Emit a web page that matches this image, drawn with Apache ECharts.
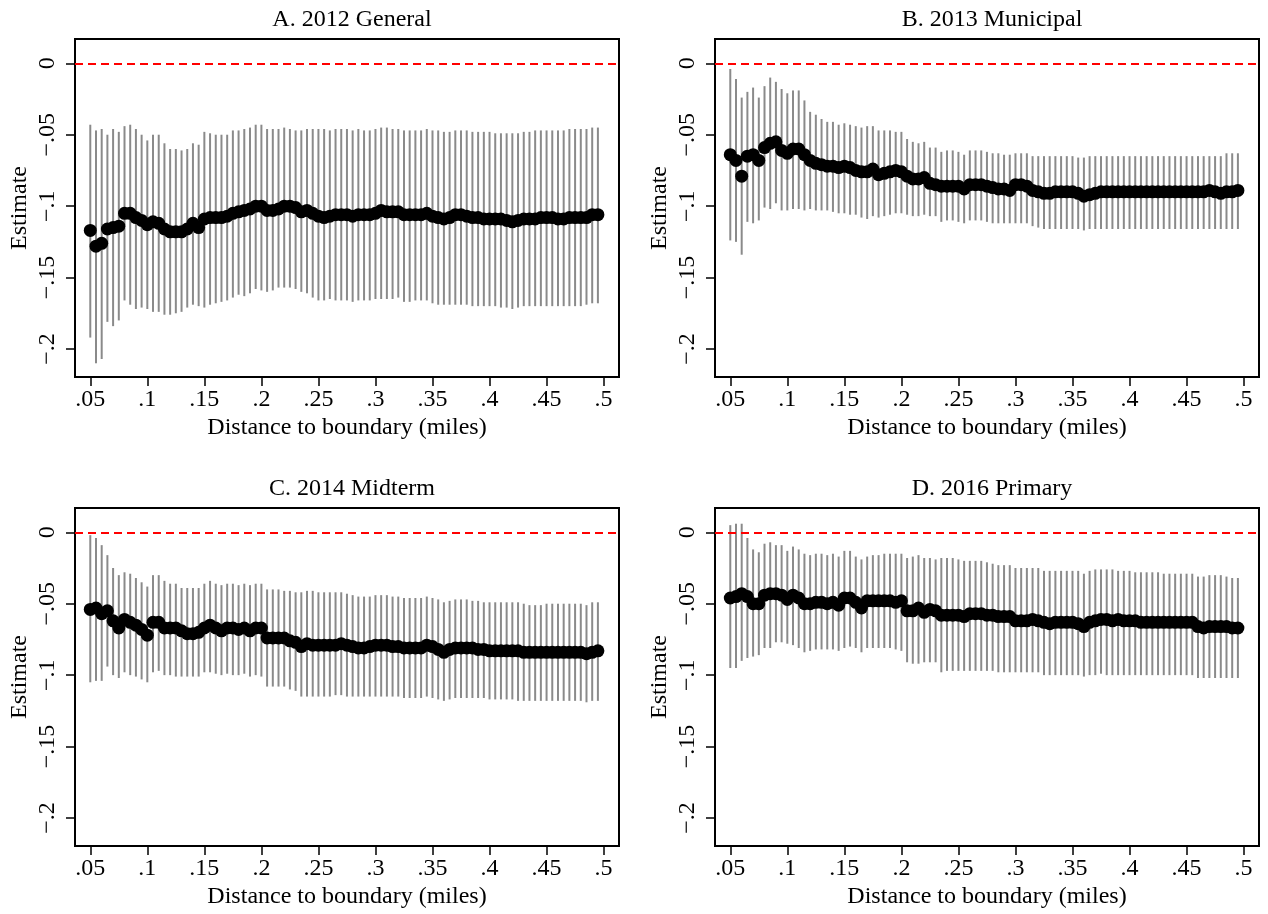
<!DOCTYPE html>
<html>
<head>
<meta charset="utf-8">
<title>Estimates by distance to boundary</title>
<script src="https://cdn.jsdelivr.net/npm/echarts@6/dist/echarts.min.js"></script>
<style>
  html, body { margin: 0; padding: 0; background: #fff; }
  #chart { width: 1268px; height: 914px; }
</style>
</head>
<body>
<div id="chart"></div>
<script>
// distance to boundary (miles)
const distances = [
  0.05, 0.055, 0.06, 0.065, 0.07, 0.075, 0.08, 0.085, 0.09, 0.095,
  0.1, 0.105, 0.11, 0.115, 0.12, 0.125, 0.13, 0.135, 0.14, 0.145,
  0.15, 0.155, 0.16, 0.165, 0.17, 0.175, 0.18, 0.185, 0.19, 0.195,
  0.2, 0.205, 0.21, 0.215, 0.22, 0.225, 0.23, 0.235, 0.24, 0.245,
  0.25, 0.255, 0.26, 0.265, 0.27, 0.275, 0.28, 0.285, 0.29, 0.295,
  0.3, 0.305, 0.31, 0.315, 0.32, 0.325, 0.33, 0.335, 0.34, 0.345,
  0.35, 0.355, 0.36, 0.365, 0.37, 0.375, 0.38, 0.385, 0.39, 0.395,
  0.4, 0.405, 0.41, 0.415, 0.42, 0.425, 0.43, 0.435, 0.44, 0.445,
  0.45, 0.455, 0.46, 0.465, 0.47, 0.475, 0.48, 0.485, 0.49, 0.495
];

const xTicks = [0.05, 0.1, 0.15, 0.2, 0.25, 0.3, 0.35, 0.4, 0.45, 0.5];
const yTicks = [0, -0.05, -0.1, -0.15, -0.2];

const titles = ['A. 2012 General', 'B. 2013 Municipal', 'C. 2014 Midterm', 'D. 2016 Primary'];

// A. 2012 General
const estA = [
  -0.117, -0.128, -0.126, -0.116, -0.115, -0.114, -0.105, -0.105, -0.108, -0.110,
  -0.113, -0.111, -0.112, -0.116, -0.118, -0.118, -0.118, -0.116, -0.112, -0.115,
  -0.109, -0.108, -0.108, -0.108, -0.107, -0.105, -0.104, -0.103, -0.102, -0.100,
  -0.100, -0.103, -0.103, -0.102, -0.100, -0.100, -0.101, -0.104, -0.103, -0.105,
  -0.107, -0.108, -0.107, -0.106, -0.106, -0.106, -0.107, -0.106, -0.106, -0.106,
  -0.105, -0.103, -0.104, -0.104, -0.104, -0.106, -0.106, -0.106, -0.106, -0.105,
  -0.107, -0.108, -0.109, -0.108, -0.106, -0.106, -0.107, -0.108, -0.108, -0.109,
  -0.109, -0.109, -0.109, -0.110, -0.111, -0.110, -0.109, -0.109, -0.109, -0.108,
  -0.108, -0.108, -0.109, -0.109, -0.108, -0.108, -0.108, -0.108, -0.106, -0.106
];
const hiA = [
  -0.043, -0.047, -0.046, -0.050, -0.046, -0.048, -0.044, -0.043, -0.046, -0.050,
  -0.054, -0.050, -0.050, -0.056, -0.060, -0.060, -0.061, -0.060, -0.056, -0.057,
  -0.048, -0.049, -0.050, -0.050, -0.050, -0.047, -0.047, -0.046, -0.045, -0.043,
  -0.043, -0.046, -0.046, -0.046, -0.045, -0.046, -0.047, -0.047, -0.046, -0.046,
  -0.046, -0.046, -0.047, -0.046, -0.046, -0.046, -0.047, -0.046, -0.047, -0.047,
  -0.046, -0.045, -0.045, -0.046, -0.046, -0.047, -0.047, -0.047, -0.047, -0.046,
  -0.047, -0.047, -0.048, -0.048, -0.047, -0.047, -0.047, -0.048, -0.048, -0.048,
  -0.048, -0.049, -0.049, -0.049, -0.049, -0.049, -0.048, -0.048, -0.047, -0.047,
  -0.047, -0.047, -0.047, -0.047, -0.046, -0.046, -0.046, -0.046, -0.045, -0.045
];
const loA = [
  -0.192, -0.210, -0.207, -0.181, -0.184, -0.180, -0.166, -0.169, -0.172, -0.171,
  -0.172, -0.174, -0.174, -0.176, -0.176, -0.175, -0.174, -0.171, -0.169, -0.170,
  -0.171, -0.169, -0.168, -0.167, -0.166, -0.164, -0.162, -0.163, -0.161, -0.158,
  -0.159, -0.160, -0.159, -0.157, -0.157, -0.157, -0.158, -0.160, -0.161, -0.164,
  -0.166, -0.166, -0.165, -0.166, -0.166, -0.166, -0.167, -0.166, -0.166, -0.166,
  -0.165, -0.165, -0.165, -0.165, -0.164, -0.167, -0.167, -0.166, -0.166, -0.166,
  -0.168, -0.169, -0.169, -0.169, -0.169, -0.169, -0.169, -0.170, -0.170, -0.170,
  -0.170, -0.170, -0.171, -0.171, -0.172, -0.171, -0.170, -0.170, -0.170, -0.170,
  -0.170, -0.170, -0.170, -0.170, -0.170, -0.170, -0.170, -0.169, -0.168, -0.168
];

// B. 2013 Municipal
const estB = [
  -0.064, -0.068, -0.079, -0.065, -0.064, -0.068, -0.059, -0.056, -0.055, -0.061,
  -0.063, -0.060, -0.060, -0.064, -0.068, -0.070, -0.071, -0.072, -0.072, -0.073,
  -0.072, -0.073, -0.075, -0.076, -0.076, -0.074, -0.078, -0.077, -0.076, -0.075,
  -0.076, -0.079, -0.081, -0.081, -0.080, -0.084, -0.085, -0.086, -0.086, -0.086,
  -0.086, -0.088, -0.085, -0.085, -0.085, -0.086, -0.087, -0.088, -0.088, -0.089,
  -0.085, -0.085, -0.086, -0.089, -0.090, -0.091, -0.091, -0.090, -0.090, -0.090,
  -0.090, -0.091, -0.093, -0.092, -0.091, -0.090, -0.090, -0.090, -0.090, -0.090,
  -0.090, -0.090, -0.090, -0.090, -0.090, -0.090, -0.090, -0.090, -0.090, -0.090,
  -0.090, -0.090, -0.090, -0.090, -0.089, -0.090, -0.091, -0.090, -0.090, -0.089
];
const hiB = [
  -0.004, -0.011, -0.024, -0.020, -0.017, -0.024, -0.016, -0.010, -0.013, -0.018,
  -0.021, -0.019, -0.019, -0.026, -0.034, -0.036, -0.039, -0.041, -0.041, -0.043,
  -0.042, -0.043, -0.044, -0.045, -0.044, -0.044, -0.047, -0.047, -0.047, -0.048,
  -0.048, -0.053, -0.055, -0.056, -0.055, -0.059, -0.059, -0.062, -0.061, -0.061,
  -0.062, -0.064, -0.061, -0.061, -0.061, -0.062, -0.063, -0.063, -0.064, -0.064,
  -0.063, -0.063, -0.063, -0.065, -0.065, -0.065, -0.065, -0.065, -0.065, -0.065,
  -0.065, -0.066, -0.066, -0.065, -0.065, -0.065, -0.065, -0.065, -0.065, -0.065,
  -0.065, -0.065, -0.065, -0.065, -0.065, -0.065, -0.065, -0.065, -0.065, -0.065,
  -0.065, -0.065, -0.065, -0.065, -0.065, -0.065, -0.065, -0.063, -0.063, -0.063
];
const loB = [
  -0.124, -0.125, -0.134, -0.111, -0.112, -0.110, -0.101, -0.102, -0.098, -0.103,
  -0.103, -0.102, -0.102, -0.103, -0.102, -0.103, -0.103, -0.103, -0.104, -0.105,
  -0.105, -0.106, -0.106, -0.108, -0.109, -0.107, -0.108, -0.107, -0.106, -0.105,
  -0.105, -0.106, -0.107, -0.107, -0.106, -0.107, -0.107, -0.111, -0.110, -0.110,
  -0.111, -0.112, -0.110, -0.110, -0.110, -0.111, -0.112, -0.112, -0.112, -0.112,
  -0.112, -0.112, -0.112, -0.114, -0.115, -0.116, -0.116, -0.116, -0.116, -0.116,
  -0.116, -0.116, -0.117, -0.116, -0.116, -0.116, -0.116, -0.116, -0.116, -0.116,
  -0.116, -0.116, -0.116, -0.116, -0.116, -0.116, -0.116, -0.116, -0.116, -0.116,
  -0.116, -0.116, -0.116, -0.116, -0.116, -0.116, -0.116, -0.116, -0.116, -0.116
];

// C. 2014 Midterm
const estC = [
  -0.054, -0.053, -0.057, -0.055, -0.062, -0.067, -0.061, -0.063, -0.065, -0.068,
  -0.072, -0.063, -0.063, -0.067, -0.067, -0.067, -0.069, -0.071, -0.071, -0.070,
  -0.067, -0.065, -0.067, -0.069, -0.067, -0.067, -0.068, -0.067, -0.069, -0.067,
  -0.067, -0.074, -0.074, -0.074, -0.074, -0.076, -0.077, -0.080, -0.078, -0.079,
  -0.079, -0.079, -0.079, -0.079, -0.078, -0.079, -0.080, -0.081, -0.081, -0.080,
  -0.079, -0.079, -0.079, -0.080, -0.080, -0.081, -0.081, -0.081, -0.081, -0.079,
  -0.080, -0.082, -0.084, -0.082, -0.081, -0.081, -0.081, -0.081, -0.082, -0.082,
  -0.083, -0.083, -0.083, -0.083, -0.083, -0.083, -0.084, -0.084, -0.084, -0.084,
  -0.084, -0.084, -0.084, -0.084, -0.084, -0.084, -0.084, -0.085, -0.084, -0.083
];
const hiC = [
  -0.002, -0.004, -0.009, -0.016, -0.025, -0.030, -0.028, -0.029, -0.032, -0.035,
  -0.038, -0.030, -0.030, -0.034, -0.036, -0.036, -0.039, -0.039, -0.039, -0.039,
  -0.036, -0.034, -0.036, -0.037, -0.036, -0.036, -0.037, -0.036, -0.037, -0.036,
  -0.036, -0.040, -0.040, -0.040, -0.041, -0.041, -0.042, -0.042, -0.041, -0.041,
  -0.042, -0.042, -0.042, -0.042, -0.042, -0.043, -0.044, -0.045, -0.045, -0.045,
  -0.044, -0.044, -0.044, -0.045, -0.045, -0.046, -0.046, -0.046, -0.046, -0.045,
  -0.046, -0.047, -0.049, -0.048, -0.047, -0.047, -0.047, -0.048, -0.048, -0.049,
  -0.049, -0.049, -0.049, -0.049, -0.049, -0.049, -0.050, -0.051, -0.051, -0.051,
  -0.050, -0.050, -0.050, -0.050, -0.050, -0.050, -0.050, -0.051, -0.049, -0.049
];
const loC = [
  -0.105, -0.104, -0.104, -0.094, -0.100, -0.102, -0.098, -0.100, -0.101, -0.103,
  -0.105, -0.098, -0.097, -0.100, -0.100, -0.101, -0.101, -0.101, -0.101, -0.101,
  -0.098, -0.098, -0.099, -0.100, -0.099, -0.100, -0.100, -0.099, -0.101, -0.100,
  -0.101, -0.108, -0.108, -0.108, -0.108, -0.110, -0.111, -0.115, -0.115, -0.115,
  -0.115, -0.115, -0.115, -0.114, -0.114, -0.115, -0.115, -0.115, -0.115, -0.115,
  -0.115, -0.115, -0.115, -0.115, -0.115, -0.116, -0.116, -0.116, -0.116, -0.115,
  -0.116, -0.117, -0.118, -0.117, -0.116, -0.116, -0.116, -0.116, -0.116, -0.116,
  -0.117, -0.117, -0.117, -0.117, -0.117, -0.118, -0.118, -0.118, -0.118, -0.118,
  -0.118, -0.118, -0.118, -0.118, -0.118, -0.118, -0.118, -0.119, -0.118, -0.118
];

// D. 2016 Primary
const estD = [
  -0.046, -0.045, -0.043, -0.045, -0.050, -0.050, -0.044, -0.043, -0.043, -0.044,
  -0.047, -0.044, -0.046, -0.050, -0.050, -0.049, -0.049, -0.050, -0.049, -0.051,
  -0.046, -0.046, -0.049, -0.053, -0.048, -0.048, -0.048, -0.048, -0.048, -0.049,
  -0.048, -0.055, -0.055, -0.053, -0.056, -0.054, -0.055, -0.058, -0.058, -0.058,
  -0.058, -0.059, -0.057, -0.057, -0.057, -0.058, -0.058, -0.059, -0.059, -0.059,
  -0.062, -0.062, -0.062, -0.061, -0.062, -0.063, -0.064, -0.063, -0.063, -0.063,
  -0.063, -0.064, -0.066, -0.063, -0.062, -0.061, -0.061, -0.062, -0.061, -0.062,
  -0.062, -0.062, -0.063, -0.063, -0.063, -0.063, -0.063, -0.063, -0.063, -0.063,
  -0.063, -0.063, -0.066, -0.067, -0.066, -0.066, -0.066, -0.066, -0.067, -0.067
];
const hiD = [
  0.005, 0.006, 0.006, -0.004, -0.012, -0.014, -0.008, -0.007, -0.009, -0.009,
  -0.013, -0.010, -0.012, -0.015, -0.016, -0.015, -0.015, -0.016, -0.015, -0.017,
  -0.013, -0.013, -0.017, -0.019, -0.017, -0.016, -0.016, -0.015, -0.015, -0.015,
  -0.015, -0.018, -0.017, -0.016, -0.018, -0.018, -0.019, -0.018, -0.018, -0.018,
  -0.019, -0.020, -0.020, -0.020, -0.020, -0.021, -0.022, -0.023, -0.023, -0.023,
  -0.025, -0.025, -0.025, -0.025, -0.025, -0.027, -0.027, -0.027, -0.027, -0.027,
  -0.027, -0.027, -0.029, -0.027, -0.026, -0.026, -0.026, -0.026, -0.027, -0.027,
  -0.027, -0.028, -0.028, -0.028, -0.028, -0.028, -0.029, -0.029, -0.029, -0.029,
  -0.029, -0.029, -0.031, -0.031, -0.030, -0.030, -0.030, -0.031, -0.032, -0.032
];
const loD = [
  -0.095, -0.095, -0.090, -0.088, -0.087, -0.086, -0.081, -0.081, -0.077, -0.077,
  -0.078, -0.079, -0.081, -0.084, -0.083, -0.082, -0.082, -0.082, -0.082, -0.083,
  -0.081, -0.080, -0.081, -0.084, -0.081, -0.081, -0.081, -0.081, -0.081, -0.082,
  -0.083, -0.091, -0.092, -0.092, -0.091, -0.091, -0.091, -0.098, -0.097, -0.097,
  -0.097, -0.097, -0.097, -0.097, -0.097, -0.097, -0.097, -0.098, -0.098, -0.098,
  -0.098, -0.098, -0.098, -0.098, -0.098, -0.100, -0.100, -0.100, -0.100, -0.100,
  -0.100, -0.100, -0.101, -0.100, -0.100, -0.099, -0.100, -0.100, -0.100, -0.100,
  -0.100, -0.100, -0.100, -0.100, -0.100, -0.100, -0.100, -0.100, -0.100, -0.100,
  -0.100, -0.100, -0.102, -0.102, -0.102, -0.102, -0.102, -0.102, -0.102, -0.102
];

const estimates = [estA, estB, estC, estD];
const uppers = [hiA, hiB, hiC, hiD];
const lowers = [loA, loB, loC, loD];

const FONT = 'Liberation Serif';
const FS = 24;

// plot frames (px)
const frames = [
  { left: 75, top: 39 },
  { left: 715, top: 39 },
  { left: 75, top: 508 },
  { left: 715, top: 508 }
];
const frameW = 544;
const frameH = 338;

function fmtTick(v) {
  if (Math.abs(v) < 1e-9) return '0';
  const s = Math.abs(v).toFixed(3).replace(/0+$/, '').replace(/^0/, '');
  return (v < 0 ? '\u2212' : '') + s;
}

const chart = echarts.init(document.getElementById('chart'), null, { renderer: 'canvas' });

const grid = [];
const xAxis = [];
const yAxis = [];
const title = [];
const series = [];

frames.forEach((f, i) => {
  grid.push({
    left: f.left, top: f.top, width: frameW, height: frameH,
    show: true, borderColor: '#000', borderWidth: 2, backgroundColor: '#fff'
  });
  title.push({
    text: titles[i],
    left: f.left + frameW / 2,
    top: f.top - 36,
    textAlign: 'center',
    textStyle: { fontFamily: FONT, fontSize: FS, fontWeight: 'normal', color: '#000' }
  });
  xAxis.push({
    type: 'value', gridIndex: i,
    min: 0.0366, max: 0.5135,
    name: 'Distance to boundary (miles)',
    nameLocation: 'middle', nameGap: 39,
    nameTextStyle: { fontFamily: FONT, fontSize: FS, color: '#000' },
    axisLine: { show: true, onZero: false, lineStyle: { color: '#000', width: 2 } },
    axisTick: { show: true, length: 9, customValues: xTicks, lineStyle: { color: '#000', width: 1.5 } },
    axisLabel: {
      customValues: xTicks, formatter: fmtTick, margin: 11,
      fontFamily: FONT, fontSize: FS, color: '#000'
    },
    splitLine: { show: false }
  });
  yAxis.push({
    type: 'value', gridIndex: i,
    min: -0.2196, max: 0.017,
    name: 'Estimate',
    nameLocation: 'middle', nameGap: 43, nameRotate: 90,
    nameTextStyle: { fontFamily: FONT, fontSize: FS, color: '#000' },
    axisLine: { show: true, onZero: false, lineStyle: { color: '#000', width: 2 } },
    axisTick: { show: true, length: 9, customValues: yTicks, lineStyle: { color: '#000', width: 1.5 } },
    axisLabel: {
      customValues: yTicks, formatter: fmtTick, rotate: 90, margin: 15,
      fontFamily: FONT, fontSize: FS, color: '#000'
    },
    splitLine: { show: false }
  });

  const lo = lowers[i];
  const hi = uppers[i];
  const est = estimates[i];

  // confidence intervals as vertical gray bars
  series.push({
    type: 'custom',
    xAxisIndex: i, yAxisIndex: i,
    silent: true,
    z: 2,
    encode: { x: 0, y: [1, 2] },
    data: distances.map((d, k) => [d, lo[k], hi[k]]),
    renderItem: function (params, api) {
      const a = api.coord([api.value(0), api.value(1)]);
      const b = api.coord([api.value(0), api.value(2)]);
      return {
        type: 'line',
        shape: { x1: a[0], y1: a[1], x2: b[0], y2: b[1] },
        style: { stroke: '#8a8a8a', lineWidth: 2 }
      };
    }
  });

  // point estimates
  series.push({
    type: 'scatter',
    xAxisIndex: i, yAxisIndex: i,
    silent: true,
    z: 3,
    symbol: 'circle',
    symbolSize: 13,
    itemStyle: { color: '#000', opacity: 1 },
    data: distances.map((d, k) => [d, est[k]]),
    markLine: {
      silent: true,
      symbol: ['none', 'none'],
      label: { show: false },
      lineStyle: { color: '#ff0000', type: [8, 5], width: 2 },
      data: [{ yAxis: 0 }]
    }
  });
});

chart.setOption({
  animation: false,
  backgroundColor: '#fff',
  title: title,
  grid: grid,
  xAxis: xAxis,
  yAxis: yAxis,
  series: series
});
</script>
</body>
</html>
